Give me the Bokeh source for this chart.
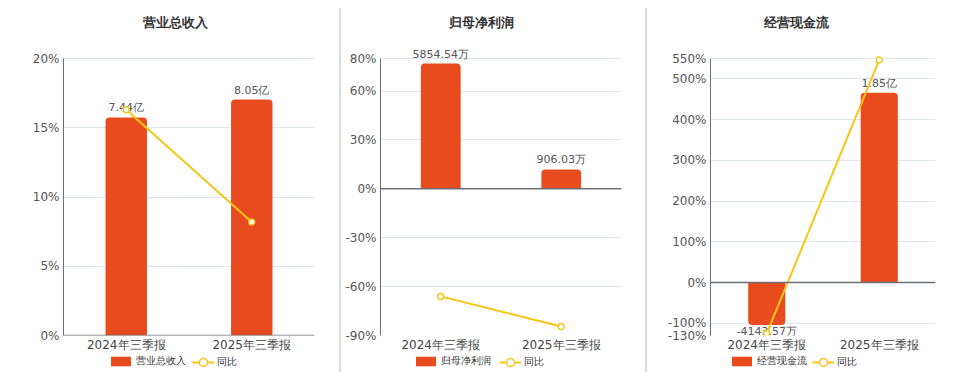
from bokeh.plotting import figure
from bokeh.models import (Range1d, FixedTicker, Legend, LegendItem, Div, Span,
                          ColumnDataSource, CustomJSTickFormatter)
from bokeh.layouts import row, column
from bokeh.embed import file_html
from bokeh.resources import INLINE
from bokeh.core.properties import value, field

periods = ["2024年三季报", "2025年三季报"]
yoy_name = "同比"

rev_name = "营业总收入"
rev_values = [7.44, 8.05]          # 亿
rev_labels = ["7.44亿", "8.05亿"]
rev_yoy = [16.3, 8.2]              # %
rev_ticks = [0, 5, 10, 15, 20]
rev_bar_max = 9.45

np_name = "归母净利润"
np_values = [5854.54, 906.03]      # 万
np_labels = ["5854.54万", "906.03万"]
np_yoy = [-66.0, -84.5]
np_ticks = [-90, -60, -30, 0, 30, 60, 80]
np_bar_max = 6090.0

cf_name = "经营现金流"
cf_values = [-4143.57, 18500.0]    # 万
cf_labels = ["-4143.57万", "1.85亿"]
cf_yoy = [-125.0, 546.5]
cf_ticks = [-130, -100, 0, 100, 200, 300, 400, 500, 550]
cf_bar_max = 21830.0

BAR = "#E84C1E"
LINE = "#F5C518"
FONT = "DejaVu Sans"

TOP = 36          # frame top (room above top tick for value labels)
AXIS_TOP = 58     # pixel of top tick
AXIS_BOT = 335    # pixel of bottom tick
MAIN_H = 354
LEG_H = 18


def panel(title, values, labels, yoy, ticks, bar_max, width, left, right,
          title_left, leg1_x, leg2_x):
    lo, hi = min(ticks), max(ticks)
    ext = (hi - lo) * (AXIS_TOP - TOP) / (AXIS_BOT - AXIS_TOP)
    bar_lo = bar_max * lo / hi
    bar_ext = (bar_max - bar_lo) * (AXIS_TOP - TOP) / (AXIS_BOT - AXIS_TOP)
    p = figure(x_range=periods, y_range=Range1d(lo, hi + ext), width=width,
               height=MAIN_H, output_backend="svg", toolbar_location=None,
               min_border_left=left, min_border_right=right,
               min_border_top=TOP, min_border_bottom=MAIN_H - AXIS_BOT)
    p.extra_y_ranges = {"bar": Range1d(bar_lo, bar_max + bar_ext)}
    p.outline_line_color = None

    # bars
    pos_x = [c for c, v in zip(periods, values) if v >= 0]
    pos_v = [v for v in values if v >= 0]
    neg_x = [c for c, v in zip(periods, values) if v < 0]
    neg_v = [v for v in values if v < 0]
    p.vbar(x=pos_x, top=pos_v, bottom=0, width=0.33, y_range_name="bar",
           fill_color=BAR, line_color=None, border_radius=(4, 4, 0, 0))
    if neg_v:
        p.vbar(x=neg_x, top=0, bottom=neg_v, width=0.33, y_range_name="bar",
               fill_color=BAR, line_color=None, border_radius=(0, 0, 4, 4))

    # bar value labels
    lab = ColumnDataSource(dict(
        x=periods, y=values, text=labels,
        base=["bottom" if v >= 0 else "top" for v in values],
        off=[-3 if v >= 0 else 0 for v in values]))
    p.text(x="x", y="y", text="text", source=lab, y_range_name="bar",
           text_align="center", text_baseline=field("base"), y_offset=field("off"),
           text_font=value(FONT), text_font_size="11px", text_color="#555555")

    # zero line
    p.add_layout(Span(location=0, dimension="width", line_color="#6E7079",
                      line_width=1.5))

    # yoy line
    p.line(periods, yoy, line_color=LINE, line_width=2)
    p.scatter(periods, yoy, size=6, fill_color="white", line_color=LINE,
              line_width=1.5)

    # axes
    p.yaxis.ticker = FixedTicker(ticks=ticks)
    p.yaxis.bounds = (lo, hi)
    p.yaxis.formatter = CustomJSTickFormatter(code="return tick + '%';")
    p.yaxis.major_tick_line_color = None
    p.yaxis.major_tick_out = 0
    p.yaxis.minor_tick_line_color = None
    p.yaxis.axis_line_color = "#6E7079"
    p.yaxis.major_label_standoff = 4
    p.yaxis.major_label_text_font = FONT
    p.yaxis.major_label_text_font_size = "12px"
    p.yaxis.major_label_text_color = "#555555"

    p.xaxis.axis_line_color = None
    p.xaxis.major_tick_line_color = None
    p.xaxis.major_tick_out = 0
    p.xaxis.minor_tick_line_color = None
    p.xaxis.major_label_standoff = 2
    p.xaxis.major_label_text_font = FONT
    p.xaxis.major_label_text_font_size = "12px"
    p.xaxis.major_label_text_color = "#444444"

    p.xgrid.grid_line_color = None
    p.ygrid.grid_line_color = "#E0E6F1"
    p.ygrid.ticker = FixedTicker(ticks=ticks)

    # title
    p.title.text = title
    p.title.align = "left"
    p.title.offset = title_left
    p.title.text_font = FONT
    p.title.text_font_size = "13px"
    p.title.text_font_style = "bold"
    p.title.text_color = "#333333"
    p.title.standoff = 14

    # legend strip (own small canvas so nothing is clipped); its renderers are
    # hidden copies of the series, used only for the legend swatches
    lg = figure(x_range=periods, y_range=Range1d(1e9, 1e9 + 1), width=width,
                height=LEG_H, output_backend="svg", toolbar_location=None,
                min_border=0, x_axis_location=None, y_axis_location=None)
    lg.outline_line_color = None
    lg.grid.visible = False
    d_bar = lg.vbar(x=periods, top=values, width=0.33, fill_color=BAR,
                    line_color=None, visible=False)
    d_line = lg.line(periods, yoy, line_color=LINE, line_width=2, visible=False)
    d_pt = lg.scatter(periods, yoy, fill_color="white", line_color=LINE,
                      line_width=1.5, visible=False)
    common = dict(orientation="horizontal", padding=0, margin=0, spacing=0,
                  border_line_color=None, background_fill_alpha=0,
                  label_text_font=FONT, label_text_font_size="10px",
                  label_text_color="#333333", label_standoff=3)
    leg1 = Legend(items=[LegendItem(label=title, renderers=[d_bar])],
                  location=(leg1_x, 4), glyph_width=25, glyph_height=12,
                  label_height=12, **common)
    leg2 = Legend(items=[LegendItem(label=yoy_name, renderers=[d_line, d_pt])],
                  location=(leg2_x, 0), glyph_width=22, glyph_height=20,
                  label_height=20, **common)
    lg.add_layout(leg1)
    lg.add_layout(leg2)
    return column(p, lg, spacing=0)


p1 = panel(rev_name, rev_values, rev_labels, rev_yoy, rev_ticks, rev_bar_max,
           339, 63, 25, 79, 45, 129)
p2 = panel(np_name, np_values, np_labels, np_yoy, np_ticks, np_bar_max,
           304, 39, 24, 68, 33, 119)
p3 = panel(cf_name, cf_values, cf_labels, cf_yoy, cf_ticks, cf_bar_max,
           313, 63, 25, 53, 19, 102)


def sep():
    return Div(width=2, height=364, margin=(8, 0, 0, 0),
               styles={"background-color": "#DCDCDC"})


layout = row(p1, sep(), p2, sep(), p3, spacing=0)
open("out.html", "w").write(file_html(layout, INLINE))
